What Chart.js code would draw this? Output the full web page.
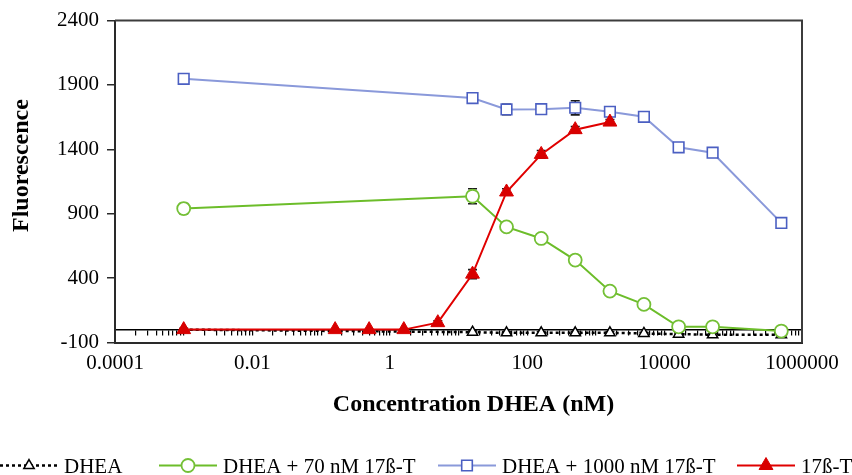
<!DOCTYPE html>
<html>
<head>
<meta charset="utf-8">
<script src="https://cdn.jsdelivr.net/npm/chart.js@4.4.1/dist/chart.umd.min.js"></script>
<style>
  html, body { margin: 0; padding: 0; background: #ffffff; }
  canvas { display: block; }
</style>
</head>
<body>
<canvas id="chart" width="852" height="475"></canvas>
<script>
// Concentrations (nM); 0.001 stands for the untreated control
const concDHEA = [0.001, 16, 50, 160, 500, 1600, 5000, 16000, 50000, 500000];
const concT    = [0.001, 0.16, 0.5, 1.6, 5, 16, 50, 160, 500, 1600];

// Fluorescence readings
const fluorDHEA      = [0, -20, -25, -25, -25, -25, -30, -35, -40, -40];
const fluorDHEA70T   = [940, 1036, 798, 708, 540, 299, 196, 22, 22, -11];
const fluorDHEA1000T = [1948, 1798, 1710, 1712, 1723, 1692, 1653, 1416, 1374, 829];
const fluorT         = [0, 0, 0, 0, 54, 431, 1069, 1361, 1553, 1612];

// Standard errors
const errDHEA      = [10, 10, 10, 10, 10, 10, 10, 10, 10, 10];
const errDHEA70T   = [40, 58, 25, 35, 30, 25, 30, 25, 20, 20];
const errDHEA1000T = [35, 20, 40, 35, 55, 35, 25, 20, 30, 25];
const errT         = [0, 0, 0, 0, 15, 35, 25, 30, 25, 20];

const seriesNames = ['DHEA', 'DHEA + 70 nM 17ß-T', 'DHEA + 1000 nM 17ß-T', '17ß-T'];

// Axis ticks
const xTickValues = [0.0001, 0.01, 1, 100, 10000, 1000000];
const xTickLabels = ['0.0001', '0.01', '1', '100', '10000', '1000000'];
const yTickValues = [-100, 400, 900, 1400, 1900, 2400];

const xTitle = 'Concentration DHEA (nM)';
const yTitle = 'Fluorescence';

// Minor tick marks along the zero line: 1..9 x 10^e for every decade
const zeroLineTicks = [];
for (let e = -4; e < 6; e++) {
  for (let k = 1; k <= 9; k++) zeroLineTicks.push(Number((k * Math.pow(10, e)).toPrecision(3)));
}
zeroLineTicks.push(1000000);

const pairs = (xs, ys) => xs.map((x, i) => ({ x: x, y: ys[i] }));

const SERIF = '"Liberation Serif", "Times New Roman", serif';

// Error bars, drawn underneath the markers
const errorBars = {
  id: 'errorBars',
  beforeDatasetsDraw(chart) {
    const ctx = chart.ctx;
    const xs = chart.scales.x, ys = chart.scales.y;
    chart.data.datasets.forEach(ds => {
      if (!ds.errors) return;
      ctx.save();
      ctx.strokeStyle = '#1a1a1a';
      ctx.lineWidth = 1.6;
      ds.data.forEach((p, j) => {
        const e = ds.errors[j];
        if (!e) return;
        const px = xs.getPixelForValue(p.x);
        const yTop = ys.getPixelForValue(p.y + e);
        const yBot = ys.getPixelForValue(p.y - e);
        ctx.beginPath();
        ctx.moveTo(px, yTop); ctx.lineTo(px, yBot);
        ctx.moveTo(px - 4.5, yTop); ctx.lineTo(px + 4.5, yTop);
        ctx.moveTo(px - 4.5, yBot); ctx.lineTo(px + 4.5, yBot);
        ctx.stroke();
      });
      ctx.restore();
    });
  }
};

// Top and right edges of the plot frame
const plotFrame = {
  id: 'plotFrame',
  afterDraw(chart) {
    const { ctx, chartArea: a } = chart;
    ctx.save();
    ctx.strokeStyle = '#3c3c3c';
    ctx.lineWidth = 2;
    ctx.beginPath();
    ctx.moveTo(a.left, a.top);
    ctx.lineTo(a.right, a.top);
    ctx.lineTo(a.right, a.bottom);
    ctx.stroke();
    ctx.restore();
  }
};

// Bold axis titles
const axisTitles = {
  id: 'axisTitles',
  afterDraw(chart, args, opts) {
    const { ctx, chartArea: a } = chart;
    ctx.save();
    ctx.fillStyle = '#000';
    ctx.font = 'bold 24px ' + SERIF;
    ctx.textAlign = 'center';
    ctx.textBaseline = 'alphabetic';
    ctx.fillText(opts.x, (a.left + a.right) / 2 + opts.xShift, opts.xBaseline);
    ctx.translate(opts.yBaseline, (a.top + a.bottom) / 2 + opts.yShift);
    ctx.rotate(-Math.PI / 2);
    ctx.fillText(opts.y, 0, 0);
    ctx.restore();
  }
};

// Legend row: line sample with marker, then the series name
const seriesLegend = {
  id: 'seriesLegend',
  afterDraw(chart, args, opts) {
    const ctx = chart.ctx;
    chart.data.datasets.forEach((ds, i) => {
      const x0 = opts.starts[i];
      const cy = opts.lineY;
      ctx.save();
      ctx.strokeStyle = ds.borderColor;
      ctx.lineWidth = ds.borderWidth;
      ctx.setLineDash(ds.borderDash || []);
      ctx.beginPath();
      ctx.moveTo(x0, cy);
      ctx.lineTo(x0 + opts.sampleWidth, cy);
      ctx.stroke();
      ctx.setLineDash([]);
      ctx.fillStyle = ds.pointBackgroundColor;
      ctx.strokeStyle = ds.pointBorderColor;
      ctx.lineWidth = ds.pointBorderWidth;
      Chart.helpers.drawPoint(ctx, {
        pointStyle: ds.pointStyle,
        radius: ds.pointRadius,
        rotation: 0,
        borderWidth: ds.pointBorderWidth
      }, x0 + opts.sampleWidth / 2, cy);
      ctx.fillStyle = '#000';
      ctx.font = '21px ' + SERIF;
      ctx.textAlign = 'left';
      ctx.textBaseline = 'alphabetic';
      ctx.fillText(ds.label, x0 + opts.textOffset, opts.textBaseline);
      ctx.restore();
    });
  }
};

new Chart(document.getElementById('chart'), {
  type: 'line',
  data: {
    datasets: [
      {
        label: seriesNames[0],
        data: pairs(concDHEA, fluorDHEA),
        errors: errDHEA,
        borderColor: '#000000',
        borderWidth: 2.5,
        borderDash: [3, 3],
        pointStyle: 'triangle',
        pointRadius: 6,
        pointBackgroundColor: '#ffffff',
        pointBorderColor: '#000000',
        pointBorderWidth: 1.5,
        order: 4
      },
      {
        label: seriesNames[1],
        data: pairs(concDHEA, fluorDHEA70T),
        errors: errDHEA70T,
        borderColor: '#6cbd2a',
        borderWidth: 2,
        pointStyle: 'circle',
        pointRadius: 6.5,
        pointBackgroundColor: '#ffffff',
        pointBorderColor: '#74c036',
        pointBorderWidth: 1.8,
        order: 3
      },
      {
        label: seriesNames[2],
        data: pairs(concDHEA, fluorDHEA1000T),
        errors: errDHEA1000T,
        borderColor: '#8a99da',
        borderWidth: 2,
        pointStyle: 'rect',
        pointRadius: 7.5,
        pointBackgroundColor: '#ffffff',
        pointBorderColor: '#4b5fc2',
        pointBorderWidth: 1.6,
        order: 2
      },
      {
        label: seriesNames[3],
        data: pairs(concT, fluorT),
        errors: errT,
        borderColor: '#e00000',
        borderWidth: 2,
        pointStyle: 'triangle',
        pointRadius: 8,
        pointBackgroundColor: '#d80000',
        pointBorderColor: '#d80000',
        pointBorderWidth: 1,
        order: 1
      }
    ]
  },
  options: {
    responsive: false,
    animation: false,
    devicePixelRatio: 1,
    layout: { padding: { left: 0, right: 50, top: 20, bottom: 0 } },
    elements: { line: { tension: 0 } },
    plugins: {
      legend: { display: false },
      tooltip: { enabled: false },
      axisTitles: { x: xTitle, y: yTitle, xShift: 15, xBaseline: 411, yBaseline: 28, yShift: -16 },
      seriesLegend: { starts: [0, 159, 438, 737], sampleWidth: 58, textOffset: 64, lineY: 465.5, textBaseline: 473 }
    },
    scales: {
      x: {
        type: 'logarithmic',
        position: 'bottom',
        min: 0.0001,
        max: 1000000,
        afterBuildTicks: s => { s.ticks = xTickValues.map(v => ({ value: v })); },
        afterFit: s => { s.height = 132.5; },
        ticks: {
          autoSkip: false,
          maxRotation: 0,
          padding: 0,
          color: '#000',
          font: { family: SERIF, size: 21 },
          callback: (v, i) => xTickLabels[i]
        },
        grid: { display: false },
        border: { display: true, color: '#2a2a2a', width: 2 }
      },
      xZero: {
        type: 'logarithmic',
        position: { y: 0 },
        min: 0.0001,
        max: 1000000,
        afterBuildTicks: s => { s.ticks = zeroLineTicks.map(v => ({ value: v })); },
        ticks: { display: false },
        grid: { display: true, drawOnChartArea: false, drawTicks: true, tickLength: 5, color: '#000', lineWidth: 1.2 },
        border: { display: true, color: '#000', width: 1.5 }
      },
      y: {
        type: 'linear',
        position: 'left',
        min: -100,
        max: 2400,
        afterBuildTicks: s => { s.ticks = yTickValues.map(v => ({ value: v })); },
        afterFit: s => { s.width = 115; },
        ticks: {
          padding: 8,
          color: '#000',
          font: { family: SERIF, size: 21 },
          callback: v => String(v)
        },
        grid: { display: true, drawOnChartArea: false, drawTicks: true, tickLength: 8, color: '#2a2a2a', lineWidth: 1.5 },
        border: { display: true, color: '#2a2a2a', width: 2 }
      }
    }
  },
  plugins: [errorBars, plotFrame, axisTitles, seriesLegend]
});
</script>
</body>
</html>
